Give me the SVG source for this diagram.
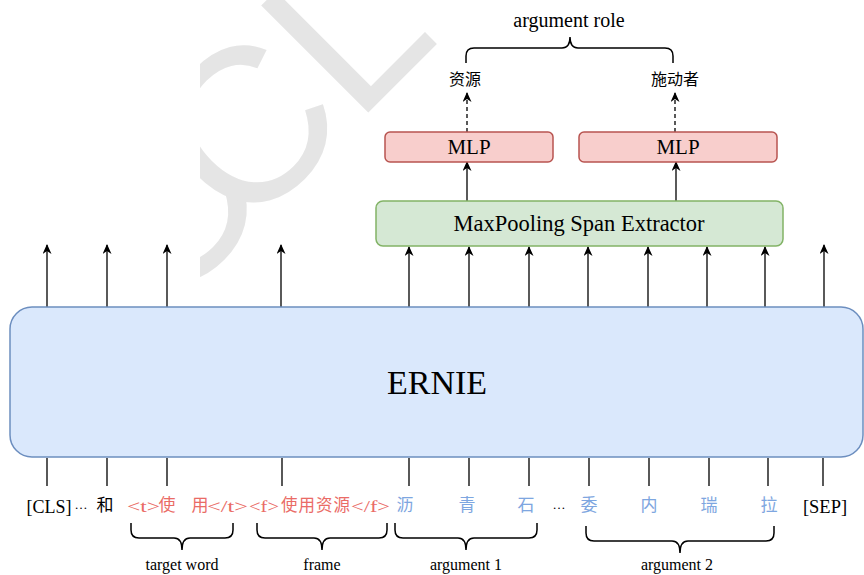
<svg xmlns="http://www.w3.org/2000/svg" width="864" height="575" viewBox="0 0 864 575">
<style>
.serif{font-family:"Liberation Serif","Times New Roman",serif;fill:#000}
.cjk{font-family:"Noto Sans CJK SC",sans-serif}
.red{fill:#ea6b66}
.blue{fill:#7ea6e0}
.wm{font-family:"Liberation Sans",Arial,sans-serif;font-size:220px;fill:#e5e5e5}
.line{stroke:#000;stroke-width:1.3;fill:none}
.arrow{stroke:#000;stroke-width:1.3;fill:none;marker-end:url(#arr)}
.dash{stroke:#000;stroke-width:1.3;fill:none;stroke-dasharray:4 3;marker-end:url(#arr)}
.brace{stroke:#000;stroke-width:1.5;fill:none}
</style>
<defs>
<marker id="arr" viewBox="0 0 10 9" refX="9" refY="4.5" markerWidth="11" markerHeight="9" markerUnits="userSpaceOnUse" orient="auto">
<path d="M0,0 L10,4.5 L0,9 L3,4.5 z" fill="#000"/>
</marker>
<clipPath id="wmclip"><rect x="200" y="0" width="664" height="575"/></clipPath>
</defs>
<rect width="864" height="575" fill="#fff"/>
<g id="watermark" clip-path="url(#wmclip)">
<g transform="rotate(-45)">
<text class="wm" x="-110" y="340">C</text>
<text class="wm" x="4" y="340">CL</text>
</g>
</g>
<g id="connectors">
<path class="arrow" d="M47,307 V245"/>
<path class="arrow" d="M107,307 V245"/>
<path class="arrow" d="M167,307 V245"/>
<path class="arrow" d="M281,307 V245"/>
<path class="arrow" d="M409,307 V247"/>
<path class="arrow" d="M469,307 V247"/>
<path class="arrow" d="M529,307 V247"/>
<path class="arrow" d="M588,307 V247"/>
<path class="arrow" d="M648,307 V247"/>
<path class="arrow" d="M707,307 V247"/>
<path class="arrow" d="M765,307 V247"/>
<path class="arrow" d="M824,307 V245"/>
<path class="arrow" d="M467,201 V162"/>
<path class="arrow" d="M676,201 V162"/>
<path class="dash" d="M467,132 V93"/>
<path class="dash" d="M675,132 V93"/>
<path class="line" d="M47,458 V486 M107,458 V486 M167,458 V486 M282,458 V486 M409,458 V486 M469,458 V486 M529,458 V486 M589,458 V486 M649,458 V486 M709,458 V486 M768,458 V486 M823,458 V486"/>
</g>
<g id="braces">
<path class="brace" d="M466,63 V56 Q466,48 474,48 H562 Q570,48 570,37 Q570,48 578,48 H665 Q673,48 673,56 V63"/>
<path class="brace" d="M131,523 V530 Q131,538 139,538 H174 Q182,538 182,550 Q182,538 190,538 H225 Q233,538 233,530 V523"/>
<path class="brace" d="M257,523 V530 Q257,538 265,538 H314 Q322,538 322,550 Q322,538 330,538 H379 Q387,538 387,530 V523"/>
<path class="brace" d="M395,523 V530 Q395,538 403,538 H458 Q466,538 466,550 Q466,538 474,538 H529 Q537,538 537,530 V523"/>
<path class="brace" d="M586,526 V533 Q586,541 594,541 H672 Q680,541 680,553 Q680,541 688,541 H766 Q774,541 774,533 V526"/>
</g>
<g id="ernie">
<rect x="10" y="307" width="853" height="150" rx="22" fill="#dae8fc" stroke="#6c8ebf" stroke-width="1.5"/>
<text class="serif" x="437" y="394" font-size="34" text-anchor="middle">ERNIE</text>
</g>
<g id="maxpool">
<rect x="376" y="201" width="407" height="45" rx="7" fill="#d5e8d4" stroke="#82b366" stroke-width="1.5"/>
<text class="serif" x="579" y="231" font-size="22.5" text-anchor="middle">MaxPooling Span Extractor</text>
</g>
<g id="mlp1">
<rect x="385" y="132" width="168" height="30" rx="5" fill="#f8cecc" stroke="#b85450" stroke-width="1.5"/>
<text class="serif" x="469" y="154" font-size="21" text-anchor="middle">MLP</text>
</g>
<g id="mlp2">
<rect x="579" y="132" width="198" height="30" rx="5" fill="#f8cecc" stroke="#b85450" stroke-width="1.5"/>
<text class="serif" x="678" y="154" font-size="21" text-anchor="middle">MLP</text>
</g>
<g id="roles">
<text class="serif" x="569" y="27" font-size="20" text-anchor="middle">argument role</text>
<text class="cjk" x="465" y="85" font-size="16" text-anchor="middle">资源</text>
<text class="cjk" x="675" y="85" font-size="16" text-anchor="middle">施动者</text>
</g>
<g id="tokens">
<text class="serif" x="49" y="513" font-size="18" text-anchor="middle">[CLS]</text>
<text class="serif" x="81" y="509" font-size="13" text-anchor="middle">…</text>
<text class="cjk" x="105" y="511" font-size="17" text-anchor="middle">和</text>
<text class="serif red" x="127" y="512" font-size="16" textLength="33" lengthAdjust="spacingAndGlyphs">&lt;t&gt;</text>
<text class="cjk red" x="167" y="511" font-size="17" text-anchor="middle">使</text>
<text class="cjk red" x="200" y="511" font-size="17" text-anchor="middle">用</text>
<text class="serif red" x="207" y="512" font-size="16" textLength="41" lengthAdjust="spacingAndGlyphs">&lt;/t&gt;</text>
<text class="serif red" x="249" y="512" font-size="16" textLength="30" lengthAdjust="spacingAndGlyphs">&lt;f&gt;</text>
<text class="cjk red" x="281" y="511" font-size="16.5" textLength="69" lengthAdjust="spacing">使用资源</text>
<text class="serif red" x="351" y="512" font-size="16" textLength="39" lengthAdjust="spacingAndGlyphs">&lt;/f&gt;</text>
<text class="cjk blue" x="405" y="511" font-size="17" text-anchor="middle">沥</text>
<text class="cjk blue" x="467" y="511" font-size="17" text-anchor="middle">青</text>
<text class="cjk blue" x="526" y="511" font-size="17" text-anchor="middle">石</text>
<text class="serif" x="559" y="509" font-size="13" text-anchor="middle">…</text>
<text class="cjk blue" x="589" y="511" font-size="17" text-anchor="middle">委</text>
<text class="cjk blue" x="649" y="511" font-size="17" text-anchor="middle">内</text>
<text class="cjk blue" x="709" y="511" font-size="17" text-anchor="middle">瑞</text>
<text class="cjk blue" x="769" y="511" font-size="17" text-anchor="middle">拉</text>
<text class="serif" x="825" y="513" font-size="18.5" text-anchor="middle">[SEP]</text>
</g>
<g id="labels">
<text class="serif" x="182" y="570" font-size="16" text-anchor="middle">target word</text>
<text class="serif" x="322" y="570" font-size="16" text-anchor="middle">frame</text>
<text class="serif" x="466" y="570" font-size="16" text-anchor="middle">argument 1</text>
<text class="serif" x="677" y="570" font-size="16" text-anchor="middle">argument 2</text>
</g>
</svg>
